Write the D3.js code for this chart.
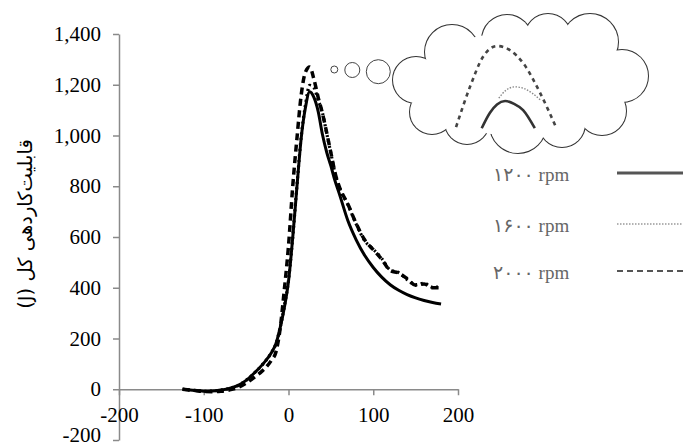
<!DOCTYPE html>
<html>
<head>
<meta charset="utf-8">
<script src="https://cdn.jsdelivr.net/npm/d3@7"></script>
<style>
  html, body { margin: 0; padding: 0; background: #fff; }
  svg { display: block; }
</style>
</head>
<body>
<svg id="chart" width="683" height="448"></svg>
<script>
// ---------------- data ----------------
const angles  = [-125,-110,-100,-90,-80,-70,-60,-50,-40,-30,-20,-15,-10,-5,0,5,10,15,20,25,30,35,40,45,50,55,60,70,80,90,100,110,120,130,140,150,160,170,180];
const rpm1200 = [0,-5,-8,-7,-3,3,14,35,65,100,145,178,240,320,425,598,800,990,1110,1172,1150,1095,1005,935,880,820,770,665,588,527,480,442,412,390,373,360,350,342,336];
const rpm1600 = [0,-5,-8,-7,-3,3,14,35,65,100,145,178,240,325,430,600,805,995,1120,1198,1188,1140,1090,1010,930,850,795,728,650,585,552,515,470,460,432,412,418,402,404];
const rpm2000 = [0,-5,-9,-10,-8,-3,6,24,48,75,115,145,235,390,565,800,990,1160,1250,1270,1222,1150,1088,1012,932,852,798,730,652,588,550,512,468,458,436,410,415,400,400];

const seriesNames = ["1200","1600","2000"];
const legendLabels = ["۱۲۰۰ rpm", "۱۶۰۰ rpm", "۲۰۰۰ rpm"];

const xTicks = [-200,-100,0,100,200];
const xTickLabels = ["-200","-100","0","100","200"];
const yTicks = [-200,0,200,400,600,800,1000,1200,1400];
const yTickLabels = ["-200","0","200","400","600","800","1,000","1,200","1,400"];

const yTitle = "\u200E(J) قابلیت\u200Cکاردهی کل";

// inset (thought-cloud) sketch of the peaks: [angle, value]
const insetAngles2000 = [15.9,19,21.9,25,30.8,34.6,38.1];
const insetValues2000 = [1127,1198,1251,1270,1240,1187,1127];
const insetAngles1600 = [25.4,27,29,31,32.8,34.6];
const insetValues1600 = [1178,1192,1198,1195,1187,1175];
const insetAngles1200 = [21.6,23.4,25,26.8,28.8,30.8,33.4];
const insetValues1200 = [1125,1152,1167,1173,1168,1157,1125];

// ---------------- layout ----------------
const svg = d3.select("#chart");
const x = d3.scaleLinear().domain([-200, 200]).range([119, 458]);
const y = d3.scaleLinear().domain([-200, 1400]).range([440, 34]);

const axisColor = "#8a8a8a";
const tickFont = "'Liberation Serif', 'Times New Roman', serif";

// Y axis
const yAxis = svg.append("g")
  .attr("transform", `translate(${x(-200)},0)`)
  .call(d3.axisLeft(y).tickValues(yTicks).tickFormat((d, i) => yTickLabels[i])
        .tickSize(6).tickSizeOuter(0).tickPadding(12));
// X axis
const xAxis = svg.append("g")
  .attr("transform", `translate(0,${y(0)})`)
  .call(d3.axisBottom(x).tickValues(xTicks).tickFormat((d, i) => xTickLabels[i])
        .tickSize(6).tickSizeOuter(0).tickPadding(12));

[yAxis, xAxis].forEach(g => {
  g.select(".domain").attr("stroke", axisColor).attr("stroke-width", 1.5);
  g.selectAll(".tick line").attr("stroke", axisColor).attr("stroke-width", 1.5);
  g.selectAll(".tick text").attr("fill", "#000")
    .style("font-family", tickFont).style("font-size", "21px");
});
// lift the bottom-most y label slightly so it stays inside the picture
yAxis.selectAll(".tick text").filter((d) => d === -200).attr("dy", "0.08em");

// Y title
svg.append("text")
  .attr("transform", "translate(32,224) rotate(-90)")
  .attr("text-anchor", "middle")
  .style("font-family", "'DejaVu Sans', sans-serif")
  .style("font-size", "19.5px")
  .attr("fill", "#000")
  .text(yTitle);

// ---------------- lines ----------------
const line = d3.line()
  .x(d => x(d[0]))
  .y(d => y(d[1]))
  .curve(d3.curveMonotoneX);

const series = [
  { vals: rpm1200, dash: null,  width: 3 },
  { vals: rpm1600, dash: "2,3.5", width: 3.2 },
  { vals: rpm2000, dash: "7,4.5", width: 3.5 }
];
series.forEach(s => {
  svg.append("path")
    .datum(angles.map((a, i) => [a, s.vals[i]]))
    .attr("d", line)
    .attr("fill", "none")
    .attr("stroke", "#000")
    .attr("stroke-width", s.width)
    .attr("stroke-dasharray", s.dash);
});

// ---------------- thought cloud ----------------
const cloud = svg.append("g");
const bubbles = [[334.3,69.5,3.5],[352.3,70,7.5],[378.3,71.7,12]];
cloud.selectAll("circle.bub").data(bubbles).enter().append("circle")
  .attr("cx", d => d[0]).attr("cy", d => d[1]).attr("r", d => d[2])
  .attr("fill", "#fff").attr("stroke", "#444").attr("stroke-width", 1);

const lobes = [
  [416,80,23],[432,112,22],[452,52,27],[507,40,25],[548,37,23],[590,42,28],
  [622,76,26],[602,111,24],[467,122,22],[518,125,28],[562,124,23]
];
cloud.selectAll("circle.lobeS").data(lobes).enter().append("circle")
  .attr("cx", d => d[0]).attr("cy", d => d[1]).attr("r", d => d[2])
  .attr("fill", "none").attr("stroke", "#333").attr("stroke-width", 2);
cloud.selectAll("circle.lobeF").data(lobes).enter().append("circle")
  .attr("cx", d => d[0]).attr("cy", d => d[1]).attr("r", d => d[2])
  .attr("fill", "#fff");
cloud.append("ellipse").attr("cx", 520).attr("cy", 84).attr("rx", 105).attr("ry", 52)
  .attr("fill", "#fff");

// inset scales
const ix = d3.scaleLinear().domain([25, 35]).range([497, 542]);
const iy = d3.scaleLinear().domain([1270, 1130]).range([46, 125.4]);
const iline = d3.line().x(d => ix(d[0])).y(d => iy(d[1])).curve(d3.curveMonotoneX);
const insets = [
  { a: insetAngles1200, v: insetValues1200, dash: null, w: 2.6, c: "#333" },
  { a: insetAngles1600, v: insetValues1600, dash: "1.5,1.5", w: 1.4, c: "#888" },
  { a: insetAngles2000, v: insetValues2000, dash: "4,4", w: 2.6, c: "#444" }
];
insets.forEach(s => {
  cloud.append("path")
    .datum(s.a.map((a, i) => [a, s.v[i]]))
    .attr("d", iline)
    .attr("fill", "none")
    .attr("stroke", s.c)
    .attr("stroke-width", s.w)
    .attr("stroke-dasharray", s.dash);
});

// ---------------- legend ----------------
const legendY = [173, 224, 271];
const legendStyles = [
  { dash: null, w: 3, c: "#555" },
  { dash: "1.5,1.5", w: 1.5, c: "#999" },
  { dash: "6,4", w: 2, c: "#555" }
];
const lg = svg.append("g");
legendLabels.forEach((lab, i) => {
  lg.append("text")
    .attr("x", 493).attr("y", legendY[i] + 4)
    .attr("dominant-baseline", "middle")
    .style("font-family", "'Liberation Serif', 'DejaVu Sans', serif")
    .style("font-size", "19px")
    .attr("fill", "#666")
    .text(lab);
  lg.append("line")
    .attr("x1", 617).attr("x2", 683)
    .attr("y1", legendY[i]).attr("y2", legendY[i])
    .attr("stroke", legendStyles[i].c)
    .attr("stroke-width", legendStyles[i].w)
    .attr("stroke-dasharray", legendStyles[i].dash);
});
</script>
</body>
</html>
